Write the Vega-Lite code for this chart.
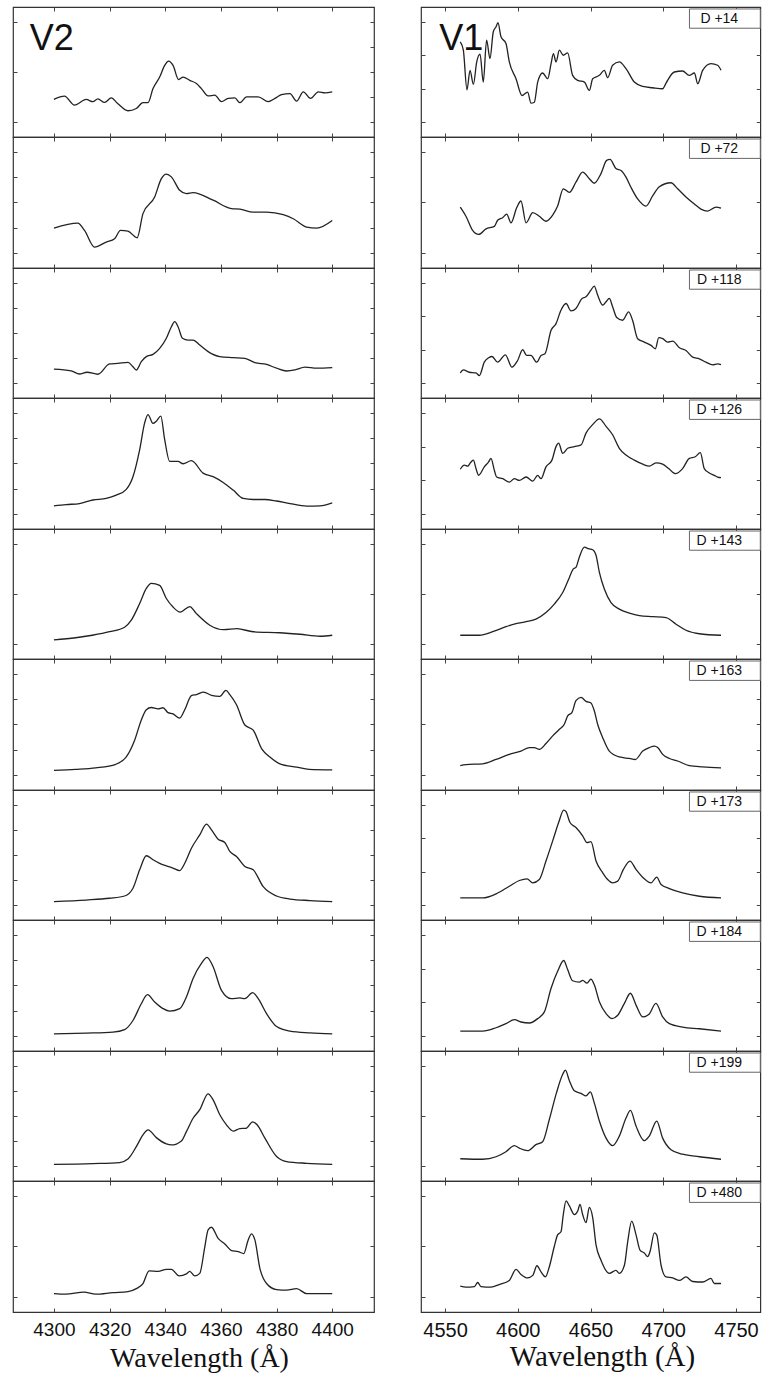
{
"$schema": "https://vega.github.io/schema/vega-lite/v6.json",
"background": "white",
"padding": {"left": 11, "top": 5, "right": 0, "bottom": 0},
"autosize": {"type": "pad"},
"config": {
  "font": "Liberation Sans",
  "view": {"stroke": "#333", "strokeWidth": 1.2},
  "axis": {"grid": false, "domain": false, "labels": false, "labelFlush": false, "minExtent": 0, "format": "d", "tickSize": -4, "tickColor": "#444", "tickWidth": 1, "labelFont": "Liberation Sans", "labelFontSize": 19, "labelColor": "#111", "labelPadding": 12, "titleFont": "Liberation Serif", "titleFontSize": 28, "titleFontWeight": "normal", "titleColor": "#111", "titlePadding": 5}
},
"datasets": {
  "names": [{"panel": "V2-1", "name": "V2"}, {"panel": "V1-1", "name": "V1"}],
  "days": [
    {"panel": "V1-1", "day": "D +14"}, {"panel": "V1-2", "day": "D +72"}, {"panel": "V1-3", "day": "D +118"}, {"panel": "V1-4", "day": "D +126"}, {"panel": "V1-5", "day": "D +143"},
    {"panel": "V1-6", "day": "D +163"}, {"panel": "V1-7", "day": "D +173"}, {"panel": "V1-8", "day": "D +184"}, {"panel": "V1-9", "day": "D +199"}, {"panel": "V1-10", "day": "D +480"}
  ],
  "spectra": [
{"panel":"V2-1","wl":4300,"flux":1.91},{"panel":"V2-1","wl":4303.8,"flux":2.04},{"panel":"V2-1","wl":4307.4,"flux":1.68},{"panel":"V2-1","wl":4311.6,"flux":1.91},{"panel":"V2-1","wl":4314,"flux":1.82},{"panel":"V2-1","wl":4315.8,"flux":1.93},{"panel":"V2-1","wl":4318.2,"flux":1.79},{"panel":"V2-1","wl":4320.6,"flux":1.97},{"panel":"V2-1","wl":4322.9,"flux":1.75},{"panel":"V2-1","wl":4326.6,"flux":1.46},{"panel":"V2-1","wl":4329.6,"flux":1.55},{"panel":"V2-1","wl":4332,"flux":1.78},{"panel":"V2-1","wl":4333.8,"flux":1.78},{"panel":"V2-1","wl":4335.6,"flux":2.34},{"panel":"V2-1","wl":4338,"flux":2.8},{"panel":"V2-1","wl":4339.8,"flux":3.26},{"panel":"V2-1","wl":4341.2,"flux":3.43},{"panel":"V2-1","wl":4342.8,"flux":3.26},{"panel":"V2-1","wl":4344.8,"flux":2.7},{"panel":"V2-1","wl":4346.4,"flux":2.8},{"panel":"V2-1","wl":4348.8,"flux":2.67},{"panel":"V2-1","wl":4351.2,"flux":2.54},{"panel":"V2-1","wl":4353,"flux":2.34},{"panel":"V2-1","wl":4355.4,"flux":2.05},{"panel":"V2-1","wl":4357.8,"flux":2.08},{"panel":"V2-1","wl":4360.2,"flux":1.82},{"panel":"V2-1","wl":4362.6,"flux":1.95},{"panel":"V2-1","wl":4365,"flux":1.97},{"panel":"V2-1","wl":4366.8,"flux":1.78},{"panel":"V2-1","wl":4369.2,"flux":2.01},{"panel":"V2-1","wl":4373.4,"flux":2.01},{"panel":"V2-1","wl":4377,"flux":1.82},{"panel":"V2-1","wl":4380,"flux":1.99},{"panel":"V2-1","wl":4381.8,"flux":2.1},{"panel":"V2-1","wl":4384.8,"flux":2.14},{"panel":"V2-1","wl":4387.2,"flux":1.84},{"panel":"V2-1","wl":4389.6,"flux":2.21},{"panel":"V2-1","wl":4392.2,"flux":1.95},{"panel":"V2-1","wl":4395,"flux":2.21},{"panel":"V2-1","wl":4397.4,"flux":2.17},{"panel":"V2-1","wl":4400,"flux":2.21},
{"panel":"V2-2","wl":4300,"flux":1.99},{"panel":"V2-2","wl":4308.6,"flux":2.19},{"panel":"V2-2","wl":4311,"flux":1.9},{"panel":"V2-2","wl":4314.6,"flux":1.24},{"panel":"V2-2","wl":4318.8,"flux":1.44},{"panel":"V2-2","wl":4321.8,"flux":1.57},{"panel":"V2-2","wl":4323.9,"flux":1.9},{"panel":"V2-2","wl":4326.6,"flux":1.87},{"panel":"V2-2","wl":4329.9,"flux":1.61},{"panel":"V2-2","wl":4332,"flux":2.56},{"panel":"V2-2","wl":4336.2,"flux":3.22},{"panel":"V2-2","wl":4338.6,"flux":3.94},{"panel":"V2-2","wl":4340.4,"flux":4.12},{"panel":"V2-2","wl":4342.2,"flux":4.01},{"panel":"V2-2","wl":4345.2,"flux":3.48},{"panel":"V2-2","wl":4347.6,"flux":3.35},{"panel":"V2-2","wl":4350,"flux":3.39},{"panel":"V2-2","wl":4357.2,"flux":3.09},{"panel":"V2-2","wl":4363.8,"flux":2.76},{"panel":"V2-2","wl":4366.8,"flux":2.74},{"panel":"V2-2","wl":4371.6,"flux":2.62},{"panel":"V2-2","wl":4376.4,"flux":2.62},{"panel":"V2-2","wl":4382.4,"flux":2.52},{"panel":"V2-2","wl":4386,"flux":2.36},{"panel":"V2-2","wl":4390.8,"flux":2.03},{"panel":"V2-2","wl":4394.4,"flux":1.99},{"panel":"V2-2","wl":4400,"flux":2.29},
{"panel":"V2-3","wl":4300,"flux":1.56},{"panel":"V2-3","wl":4306.2,"flux":1.49},{"panel":"V2-3","wl":4309.2,"flux":1.37},{"panel":"V2-3","wl":4311.9,"flux":1.44},{"panel":"V2-3","wl":4315.8,"flux":1.36},{"panel":"V2-3","wl":4320,"flux":1.77},{"panel":"V2-3","wl":4323,"flux":1.79},{"panel":"V2-3","wl":4326.6,"flux":1.83},{"panel":"V2-3","wl":4328.4,"flux":1.66},{"panel":"V2-3","wl":4329.6,"flux":1.53},{"panel":"V2-3","wl":4331.4,"flux":1.86},{"panel":"V2-3","wl":4333.2,"flux":2.06},{"panel":"V2-3","wl":4335.6,"flux":2.15},{"panel":"V2-3","wl":4338,"flux":2.39},{"panel":"V2-3","wl":4340.4,"flux":2.79},{"panel":"V2-3","wl":4342.2,"flux":3.25},{"panel":"V2-3","wl":4343.4,"flux":3.45},{"panel":"V2-3","wl":4344.6,"flux":3.25},{"panel":"V2-3","wl":4346.2,"flux":2.79},{"panel":"V2-3","wl":4348.2,"flux":2.72},{"panel":"V2-3","wl":4350,"flux":2.72},{"panel":"V2-3","wl":4352.4,"flux":2.52},{"panel":"V2-3","wl":4355.4,"flux":2.26},{"panel":"V2-3","wl":4359.6,"flux":2.06},{"panel":"V2-3","wl":4364.4,"flux":2.02},{"panel":"V2-3","wl":4368.6,"flux":1.99},{"panel":"V2-3","wl":4372.2,"flux":1.82},{"panel":"V2-3","wl":4376.4,"flux":1.75},{"panel":"V2-3","wl":4380,"flux":1.6},{"panel":"V2-3","wl":4383.6,"flux":1.49},{"panel":"V2-3","wl":4386.6,"flux":1.53},{"panel":"V2-3","wl":4390.2,"flux":1.64},{"panel":"V2-3","wl":4394.4,"flux":1.6},{"panel":"V2-3","wl":4400,"flux":1.62},
{"panel":"V2-4","wl":4300,"flux":1.33},{"panel":"V2-4","wl":4304.4,"flux":1.38},{"panel":"V2-4","wl":4309.2,"flux":1.42},{"panel":"V2-4","wl":4314,"flux":1.56},{"panel":"V2-4","wl":4318.8,"flux":1.62},{"panel":"V2-4","wl":4322.4,"flux":1.75},{"panel":"V2-4","wl":4326,"flux":1.98},{"panel":"V2-4","wl":4328.4,"flux":2.48},{"panel":"V2-4","wl":4330.8,"flux":3.54},{"panel":"V2-4","wl":4332.6,"flux":4.6},{"panel":"V2-4","wl":4333.8,"flux":4.93},{"panel":"V2-4","wl":4335.6,"flux":4.58},{"panel":"V2-4","wl":4336.8,"flux":4.67},{"panel":"V2-4","wl":4338.4,"flux":4.87},{"panel":"V2-4","wl":4339.8,"flux":3.94},{"panel":"V2-4","wl":4341.6,"flux":3.08},{"panel":"V2-4","wl":4344.6,"flux":3.08},{"panel":"V2-4","wl":4346.4,"flux":2.99},{"panel":"V2-4","wl":4349.4,"flux":3.11},{"panel":"V2-4","wl":4353.6,"flux":2.62},{"panel":"V2-4","wl":4357.2,"flux":2.48},{"panel":"V2-4","wl":4360.8,"flux":2.25},{"panel":"V2-4","wl":4364.4,"flux":1.95},{"panel":"V2-4","wl":4368,"flux":1.62},{"panel":"V2-4","wl":4371.6,"flux":1.58},{"panel":"V2-4","wl":4375.8,"flux":1.58},{"panel":"V2-4","wl":4380,"flux":1.52},{"panel":"V2-4","wl":4384.8,"flux":1.42},{"panel":"V2-4","wl":4390.8,"flux":1.32},{"panel":"V2-4","wl":4395.6,"flux":1.33},{"panel":"V2-4","wl":4400,"flux":1.45},
{"panel":"V2-5","wl":4300,"flux":1.09},{"panel":"V2-5","wl":4307.8,"flux":1.13},{"panel":"V2-5","wl":4313.8,"flux":1.18},{"panel":"V2-5","wl":4320,"flux":1.25},{"panel":"V2-5","wl":4325.4,"flux":1.34},{"panel":"V2-5","wl":4327.8,"flux":1.48},{"panel":"V2-5","wl":4330.8,"flux":1.81},{"panel":"V2-5","wl":4333.2,"flux":2.11},{"panel":"V2-5","wl":4335,"flux":2.21},{"panel":"V2-5","wl":4338,"flux":2.17},{"panel":"V2-5","wl":4340.4,"flux":1.91},{"panel":"V2-5","wl":4342.8,"flux":1.74},{"panel":"V2-5","wl":4345.4,"flux":1.64},{"panel":"V2-5","wl":4348.8,"flux":1.75},{"panel":"V2-5","wl":4351.2,"flux":1.61},{"panel":"V2-5","wl":4356,"flux":1.38},{"panel":"V2-5","wl":4361,"flux":1.29},{"panel":"V2-5","wl":4365.8,"flux":1.31},{"panel":"V2-5","wl":4371.6,"flux":1.25},{"panel":"V2-5","wl":4381.2,"flux":1.23},{"panel":"V2-5","wl":4388.4,"flux":1.2},{"panel":"V2-5","wl":4395.6,"flux":1.16},{"panel":"V2-5","wl":4400,"flux":1.18},
{"panel":"V2-6","wl":4300,"flux":1.19},{"panel":"V2-6","wl":4307.8,"flux":1.23},{"panel":"V2-6","wl":4315,"flux":1.29},{"panel":"V2-6","wl":4322.2,"flux":1.43},{"panel":"V2-6","wl":4326,"flux":1.72},{"panel":"V2-6","wl":4329,"flux":2.38},{"panel":"V2-6","wl":4331.4,"flux":3.18},{"panel":"V2-6","wl":4333.2,"flux":3.58},{"panel":"V2-6","wl":4335,"flux":3.67},{"panel":"V2-6","wl":4337.4,"flux":3.62},{"panel":"V2-6","wl":4339.2,"flux":3.66},{"panel":"V2-6","wl":4341,"flux":3.47},{"panel":"V2-6","wl":4342.8,"flux":3.42},{"panel":"V2-6","wl":4345.2,"flux":3.25},{"panel":"V2-6","wl":4347,"flux":3.58},{"panel":"V2-6","wl":4349.4,"flux":4.14},{"panel":"V2-6","wl":4351.2,"flux":4.18},{"panel":"V2-6","wl":4353.8,"flux":4.28},{"panel":"V2-6","wl":4356.6,"flux":4.15},{"panel":"V2-6","wl":4359.6,"flux":4.11},{"panel":"V2-6","wl":4361.8,"flux":4.35},{"panel":"V2-6","wl":4363.2,"flux":4.18},{"panel":"V2-6","wl":4365.6,"flux":3.78},{"panel":"V2-6","wl":4368.6,"flux":2.98},{"panel":"V2-6","wl":4371.6,"flux":2.78},{"panel":"V2-6","wl":4374.6,"flux":2.05},{"panel":"V2-6","wl":4377.6,"flux":1.72},{"panel":"V2-6","wl":4381.2,"flux":1.45},{"panel":"V2-6","wl":4387.2,"flux":1.32},{"panel":"V2-6","wl":4391.7,"flux":1.23},{"panel":"V2-6","wl":4400,"flux":1.21},
{"panel":"V2-7","wl":4300,"flux":1.15},{"panel":"V2-7","wl":4311.6,"flux":1.21},{"panel":"V2-7","wl":4320,"flux":1.28},{"panel":"V2-7","wl":4325.4,"flux":1.37},{"panel":"V2-7","wl":4328.4,"flux":1.68},{"panel":"V2-7","wl":4330.8,"flux":2.41},{"panel":"V2-7","wl":4333.2,"flux":2.97},{"panel":"V2-7","wl":4335.6,"flux":2.81},{"panel":"V2-7","wl":4338,"flux":2.67},{"panel":"V2-7","wl":4340.4,"flux":2.57},{"panel":"V2-7","wl":4342.8,"flux":2.48},{"panel":"V2-7","wl":4345.2,"flux":2.38},{"panel":"V2-7","wl":4347,"flux":2.67},{"panel":"V2-7","wl":4349.4,"flux":3.27},{"panel":"V2-7","wl":4352.4,"flux":3.8},{"panel":"V2-7","wl":4354.8,"flux":4.23},{"panel":"V2-7","wl":4356.6,"flux":4},{"panel":"V2-7","wl":4359,"flux":3.63},{"panel":"V2-7","wl":4361.4,"flux":3.5},{"panel":"V2-7","wl":4363.2,"flux":3.14},{"panel":"V2-7","wl":4365.6,"flux":2.94},{"panel":"V2-7","wl":4368.6,"flux":2.54},{"panel":"V2-7","wl":4371.6,"flux":2.41},{"panel":"V2-7","wl":4375.2,"flux":1.74},{"panel":"V2-7","wl":4380,"flux":1.37},{"panel":"V2-7","wl":4384.8,"flux":1.25},{"panel":"V2-7","wl":4392,"flux":1.19},{"panel":"V2-7","wl":4400,"flux":1.15},
{"panel":"V2-8","wl":4300,"flux":1.09},{"panel":"V2-8","wl":4311.6,"flux":1.12},{"panel":"V2-8","wl":4321.2,"flux":1.16},{"panel":"V2-8","wl":4325.4,"flux":1.26},{"panel":"V2-8","wl":4328.4,"flux":1.62},{"panel":"V2-8","wl":4331.4,"flux":2.28},{"panel":"V2-8","wl":4333.6,"flux":2.64},{"panel":"V2-8","wl":4336.2,"flux":2.35},{"panel":"V2-8","wl":4339.2,"flux":2.09},{"panel":"V2-8","wl":4341.6,"flux":1.99},{"panel":"V2-8","wl":4345.2,"flux":2.09},{"panel":"V2-8","wl":4347.6,"flux":2.55},{"panel":"V2-8","wl":4350,"flux":3.28},{"panel":"V2-8","wl":4353,"flux":3.87},{"panel":"V2-8","wl":4355,"flux":4.11},{"panel":"V2-8","wl":4357.2,"flux":3.74},{"panel":"V2-8","wl":4360.2,"flux":2.81},{"panel":"V2-8","wl":4363.8,"flux":2.48},{"panel":"V2-8","wl":4366.8,"flux":2.51},{"panel":"V2-8","wl":4368.6,"flux":2.48},{"panel":"V2-8","wl":4371.4,"flux":2.72},{"panel":"V2-8","wl":4373.4,"flux":2.48},{"panel":"V2-8","wl":4376.4,"flux":1.89},{"panel":"V2-8","wl":4380,"flux":1.38},{"panel":"V2-8","wl":4384.8,"flux":1.2},{"panel":"V2-8","wl":4392,"flux":1.13},{"panel":"V2-8","wl":4400,"flux":1.09},
{"panel":"V2-9","wl":4300,"flux":1.08},{"panel":"V2-9","wl":4314,"flux":1.11},{"panel":"V2-9","wl":4323.6,"flux":1.15},{"panel":"V2-9","wl":4326.6,"flux":1.29},{"panel":"V2-9","wl":4329.6,"flux":1.78},{"panel":"V2-9","wl":4332,"flux":2.25},{"panel":"V2-9","wl":4333.8,"flux":2.45},{"panel":"V2-9","wl":4336.8,"flux":2.14},{"panel":"V2-9","wl":4340.4,"flux":1.89},{"panel":"V2-9","wl":4342.2,"flux":1.85},{"panel":"V2-9","wl":4345.8,"flux":2.01},{"panel":"V2-9","wl":4347.6,"flux":2.38},{"panel":"V2-9","wl":4350,"flux":2.91},{"panel":"V2-9","wl":4352.4,"flux":3.25},{"panel":"V2-9","wl":4355.4,"flux":3.88},{"panel":"V2-9","wl":4357.2,"flux":3.64},{"panel":"V2-9","wl":4359.6,"flux":3.05},{"panel":"V2-9","wl":4362,"flux":2.65},{"panel":"V2-9","wl":4364.4,"flux":2.4},{"panel":"V2-9","wl":4366.8,"flux":2.5},{"panel":"V2-9","wl":4369,"flux":2.51},{"panel":"V2-9","wl":4371.4,"flux":2.77},{"panel":"V2-9","wl":4373,"flux":2.65},{"panel":"V2-9","wl":4375.8,"flux":2.12},{"panel":"V2-9","wl":4380,"flux":1.39},{"panel":"V2-9","wl":4383.6,"flux":1.19},{"panel":"V2-9","wl":4390.8,"flux":1.12},{"panel":"V2-9","wl":4400,"flux":1.08},
{"panel":"V2-10","wl":4300,"flux":1.07},{"panel":"V2-10","wl":4304.2,"flux":1.06},{"panel":"V2-10","wl":4310.8,"flux":1.1},{"panel":"V2-10","wl":4315,"flux":1.06},{"panel":"V2-10","wl":4321.2,"flux":1.09},{"panel":"V2-10","wl":4326.6,"flux":1.11},{"panel":"V2-10","wl":4329.6,"flux":1.17},{"panel":"V2-10","wl":4332,"flux":1.27},{"panel":"V2-10","wl":4334.2,"flux":1.52},{"panel":"V2-10","wl":4337.4,"flux":1.51},{"panel":"V2-10","wl":4340.4,"flux":1.55},{"panel":"V2-10","wl":4342.2,"flux":1.55},{"panel":"V2-10","wl":4345,"flux":1.42},{"panel":"V2-10","wl":4347.6,"flux":1.46},{"panel":"V2-10","wl":4348.8,"flux":1.51},{"panel":"V2-10","wl":4350.6,"flux":1.42},{"panel":"V2-10","wl":4352.4,"flux":1.47},{"panel":"V2-10","wl":4354.2,"flux":1.99},{"panel":"V2-10","wl":4355.4,"flux":2.33},{"panel":"V2-10","wl":4356.6,"flux":2.38},{"panel":"V2-10","wl":4359,"flux":2.16},{"panel":"V2-10","wl":4361.4,"flux":2.05},{"panel":"V2-10","wl":4363.8,"flux":1.92},{"panel":"V2-10","wl":4366.2,"flux":1.9},{"panel":"V2-10","wl":4368.2,"flux":1.86},{"panel":"V2-10","wl":4369.8,"flux":2.13},{"panel":"V2-10","wl":4371,"flux":2.25},{"panel":"V2-10","wl":4372.2,"flux":2.13},{"panel":"V2-10","wl":4374,"flux":1.57},{"panel":"V2-10","wl":4376.4,"flux":1.27},{"panel":"V2-10","wl":4380,"flux":1.15},{"panel":"V2-10","wl":4383.6,"flux":1.14},{"panel":"V2-10","wl":4387.2,"flux":1.17},{"panel":"V2-10","wl":4390.8,"flux":1.07},{"panel":"V2-10","wl":4400,"flux":1.07},
{"panel":"V1-1","wl":4560.5,"flux":3.4},{"panel":"V1-1","wl":4562.6,"flux":3.15},{"panel":"V1-1","wl":4565.1,"flux":1.97},{"panel":"V1-1","wl":4567.2,"flux":2.55},{"panel":"V1-1","wl":4569.5,"flux":2.13},{"panel":"V1-1","wl":4571.8,"flux":2.8},{"panel":"V1-1","wl":4574.1,"flux":3.03},{"panel":"V1-1","wl":4576.3,"flux":2.2},{"panel":"V1-1","wl":4578.6,"flux":3.45},{"panel":"V1-1","wl":4580.9,"flux":2.9},{"panel":"V1-1","wl":4583.2,"flux":3.7},{"panel":"V1-1","wl":4585.1,"flux":3.85},{"panel":"V1-1","wl":4586.4,"flux":3.97},{"panel":"V1-1","wl":4588.5,"flux":3.55},{"panel":"V1-1","wl":4591.9,"flux":3.35},{"panel":"V1-1","wl":4594.2,"flux":2.8},{"panel":"V1-1","wl":4598.8,"flux":2.3},{"panel":"V1-1","wl":4602.9,"flux":1.8},{"panel":"V1-1","wl":4606.8,"flux":1.9},{"panel":"V1-1","wl":4609.1,"flux":1.57},{"panel":"V1-1","wl":4611.4,"flux":1.6},{"panel":"V1-1","wl":4613.7,"flux":2.2},{"panel":"V1-1","wl":4617.1,"flux":2.47},{"panel":"V1-1","wl":4620.6,"flux":2.3},{"panel":"V1-1","wl":4622.9,"flux":2.75},{"panel":"V1-1","wl":4624.5,"flux":3.05},{"panel":"V1-1","wl":4626.3,"flux":2.8},{"panel":"V1-1","wl":4628.6,"flux":3.15},{"panel":"V1-1","wl":4631.3,"flux":3.0},{"panel":"V1-1","wl":4634.3,"flux":3.07},{"panel":"V1-1","wl":4637.7,"flux":2.4},{"panel":"V1-1","wl":4641.2,"flux":2.25},{"panel":"V1-1","wl":4645.8,"flux":2.2},{"panel":"V1-1","wl":4649.2,"flux":1.95},{"panel":"V1-1","wl":4651.5,"flux":2.3},{"panel":"V1-1","wl":4656.1,"flux":2.4},{"panel":"V1-1","wl":4659.5,"flux":2.55},{"panel":"V1-1","wl":4661.8,"flux":2.33},{"panel":"V1-1","wl":4665.2,"flux":2.7},{"panel":"V1-1","wl":4669.8,"flux":2.8},{"panel":"V1-1","wl":4674.4,"flux":2.6},{"panel":"V1-1","wl":4680.1,"flux":2.2},{"panel":"V1-1","wl":4685.9,"flux":2.07},{"panel":"V1-1","wl":4692.7,"flux":2.03},{"panel":"V1-1","wl":4699.6,"flux":2.0},{"panel":"V1-1","wl":4701.9,"flux":2.17},{"panel":"V1-1","wl":4707.6,"flux":2.5},{"panel":"V1-1","wl":4713.3,"flux":2.53},{"panel":"V1-1","wl":4717.9,"flux":2.4},{"panel":"V1-1","wl":4721.4,"flux":2.47},{"panel":"V1-1","wl":4723.7,"flux":2.15},{"panel":"V1-1","wl":4727.1,"flux":2.55},{"panel":"V1-1","wl":4732.8,"flux":2.75},{"panel":"V1-1","wl":4737.4,"flux":2.7},{"panel":"V1-1","wl":4739.7,"flux":2.55},
{"panel":"V1-2","wl":4560.5,"flux":1.91},{"panel":"V1-2","wl":4564.4,"flux":1.73},{"panel":"V1-2","wl":4569,"flux":1.45},{"panel":"V1-2","wl":4573.1,"flux":1.37},{"panel":"V1-2","wl":4578.2,"flux":1.48},{"panel":"V1-2","wl":4583.9,"flux":1.53},{"panel":"V1-2","wl":4586.2,"flux":1.65},{"panel":"V1-2","wl":4589.6,"flux":1.7},{"panel":"V1-2","wl":4592.4,"flux":1.77},{"panel":"V1-2","wl":4595.4,"flux":1.6},{"panel":"V1-2","wl":4599.3,"flux":1.9},{"panel":"V1-2","wl":4602.2,"flux":2.03},{"panel":"V1-2","wl":4605.7,"flux":1.6},{"panel":"V1-2","wl":4610.3,"flux":1.8},{"panel":"V1-2","wl":4614.8,"flux":1.73},{"panel":"V1-2","wl":4619.4,"flux":1.63},{"panel":"V1-2","wl":4624,"flux":1.75},{"panel":"V1-2","wl":4627.4,"flux":1.93},{"panel":"V1-2","wl":4631.3,"flux":2.27},{"panel":"V1-2","wl":4635.5,"flux":2.2},{"panel":"V1-2","wl":4640,"flux":2.4},{"panel":"V1-2","wl":4644.6,"flux":2.6},{"panel":"V1-2","wl":4649.2,"flux":2.47},{"panel":"V1-2","wl":4652.6,"flux":2.38},{"panel":"V1-2","wl":4657.2,"flux":2.57},{"panel":"V1-2","wl":4661.1,"flux":2.83},{"panel":"V1-2","wl":4663.4,"flux":2.85},{"panel":"V1-2","wl":4667.5,"flux":2.67},{"panel":"V1-2","wl":4671,"flux":2.63},{"panel":"V1-2","wl":4674.4,"flux":2.5},{"panel":"V1-2","wl":4677.8,"flux":2.3},{"panel":"V1-2","wl":4682.4,"flux":2.07},{"panel":"V1-2","wl":4688.1,"flux":1.93},{"panel":"V1-2","wl":4692.7,"flux":2.13},{"panel":"V1-2","wl":4697.3,"flux":2.31},{"panel":"V1-2","wl":4705.3,"flux":2.39},{"panel":"V1-2","wl":4709.9,"flux":2.27},{"panel":"V1-2","wl":4715.6,"flux":2.11},{"panel":"V1-2","wl":4721.4,"flux":1.97},{"panel":"V1-2","wl":4725.9,"flux":1.87},{"panel":"V1-2","wl":4730.5,"flux":1.83},{"panel":"V1-2","wl":4736.3,"flux":1.91},{"panel":"V1-2","wl":4739.7,"flux":1.89},
{"panel":"V1-3","wl":4560.5,"flux":1.31},{"panel":"V1-3","wl":4562.6,"flux":1.4},{"panel":"V1-3","wl":4566.7,"flux":1.33},{"panel":"V1-3","wl":4571.3,"flux":1.31},{"panel":"V1-3","wl":4573.6,"flux":1.23},{"panel":"V1-3","wl":4577,"flux":1.63},{"panel":"V1-3","wl":4580,"flux":1.76},{"panel":"V1-3","wl":4582.3,"flux":1.8},{"panel":"V1-3","wl":4586.2,"flux":1.63},{"panel":"V1-3","wl":4591.5,"flux":1.85},{"panel":"V1-3","wl":4596,"flux":1.48},{"panel":"V1-3","wl":4599.9,"flux":1.68},{"panel":"V1-3","wl":4603.4,"flux":2.0},{"panel":"V1-3","wl":4606.1,"flux":1.83},{"panel":"V1-3","wl":4609.1,"flux":1.83},{"panel":"V1-3","wl":4613,"flux":1.63},{"panel":"V1-3","wl":4616,"flux":1.83},{"panel":"V1-3","wl":4618.7,"flux":1.88},{"panel":"V1-3","wl":4622.9,"flux":2.58},{"panel":"V1-3","wl":4626.3,"flux":2.78},{"panel":"V1-3","wl":4629.7,"flux":3.18},{"panel":"V1-3","wl":4633.2,"flux":3.38},{"panel":"V1-3","wl":4636.6,"flux":3.16},{"panel":"V1-3","wl":4640,"flux":3.23},{"panel":"V1-3","wl":4644.2,"flux":3.53},{"panel":"V1-3","wl":4646.9,"flux":3.58},{"panel":"V1-3","wl":4650.3,"flux":3.78},{"panel":"V1-3","wl":4652.6,"flux":3.9},{"panel":"V1-3","wl":4654.9,"flux":3.63},{"panel":"V1-3","wl":4658.4,"flux":3.33},{"panel":"V1-3","wl":4660.7,"flux":3.43},{"panel":"V1-3","wl":4662.9,"flux":3.53},{"panel":"V1-3","wl":4665.2,"flux":3.28},{"panel":"V1-3","wl":4668,"flux":2.96},{"panel":"V1-3","wl":4672.1,"flux":2.88},{"panel":"V1-3","wl":4676.2,"flux":3.13},{"panel":"V1-3","wl":4678.9,"flux":2.88},{"panel":"V1-3","wl":4682.4,"flux":2.33},{"panel":"V1-3","wl":4687,"flux":2.23},{"panel":"V1-3","wl":4691.6,"flux":2.13},{"panel":"V1-3","wl":4694.6,"flux":2.03},{"panel":"V1-3","wl":4696.9,"flux":2.36},{"panel":"V1-3","wl":4699.6,"flux":2.33},{"panel":"V1-3","wl":4703,"flux":2.23},{"panel":"V1-3","wl":4706.5,"flux":2.26},{"panel":"V1-3","wl":4711.1,"flux":2.06},{"panel":"V1-3","wl":4715.6,"flux":1.98},{"panel":"V1-3","wl":4720.2,"flux":1.78},{"panel":"V1-3","wl":4724.8,"flux":1.73},{"panel":"V1-3","wl":4729.4,"flux":1.63},{"panel":"V1-3","wl":4734,"flux":1.55},{"panel":"V1-3","wl":4737.4,"flux":1.58},{"panel":"V1-3","wl":4739.7,"flux":1.56},
{"panel":"V1-4","wl":4560.5,"flux":2.33},{"panel":"V1-4","wl":4563.3,"flux":2.45},{"panel":"V1-4","wl":4565.6,"flux":2.42},{"panel":"V1-4","wl":4567.4,"flux":2.52},{"panel":"V1-4","wl":4569.5,"flux":2.6},{"panel":"V1-4","wl":4571.3,"flux":2.35},{"panel":"V1-4","wl":4573.1,"flux":2.15},{"panel":"V1-4","wl":4577,"flux":2.4},{"panel":"V1-4","wl":4580,"flux":2.55},{"panel":"V1-4","wl":4581.6,"flux":2.65},{"panel":"V1-4","wl":4583.9,"flux":2.3},{"panel":"V1-4","wl":4585.5,"flux":2.1},{"panel":"V1-4","wl":4589.6,"flux":2.05},{"panel":"V1-4","wl":4594.2,"flux":1.95},{"panel":"V1-4","wl":4597.7,"flux":2.05},{"panel":"V1-4","wl":4601.1,"flux":2.0},{"panel":"V1-4","wl":4605.7,"flux":2.1},{"panel":"V1-4","wl":4610.3,"flux":1.98},{"panel":"V1-4","wl":4613.7,"flux":2.15},{"panel":"V1-4","wl":4616,"flux":2.05},{"panel":"V1-4","wl":4619.4,"flux":2.4},{"panel":"V1-4","wl":4623.5,"flux":2.6},{"panel":"V1-4","wl":4626.3,"flux":3.0},{"panel":"V1-4","wl":4628.1,"flux":3.1},{"panel":"V1-4","wl":4630.9,"flux":2.8},{"panel":"V1-4","wl":4634.3,"flux":2.95},{"panel":"V1-4","wl":4638.9,"flux":3.0},{"panel":"V1-4","wl":4643.5,"flux":3.05},{"panel":"V1-4","wl":4646.9,"flux":3.4},{"panel":"V1-4","wl":4651.5,"flux":3.65},{"panel":"V1-4","wl":4656.1,"flux":3.82},{"panel":"V1-4","wl":4660.7,"flux":3.6},{"panel":"V1-4","wl":4665.2,"flux":3.35},{"panel":"V1-4","wl":4669.8,"flux":2.95},{"panel":"V1-4","wl":4674.4,"flux":2.75},{"panel":"V1-4","wl":4680.1,"flux":2.6},{"panel":"V1-4","wl":4685.9,"flux":2.48},{"panel":"V1-4","wl":4690.4,"flux":2.42},{"panel":"V1-4","wl":4695,"flux":2.52},{"panel":"V1-4","wl":4699.6,"flux":2.48},{"panel":"V1-4","wl":4703.7,"flux":2.35},{"panel":"V1-4","wl":4708.3,"flux":2.2},{"panel":"V1-4","wl":4713.3,"flux":2.35},{"panel":"V1-4","wl":4717.9,"flux":2.65},{"panel":"V1-4","wl":4722,"flux":2.7},{"panel":"V1-4","wl":4725.5,"flux":2.82},{"panel":"V1-4","wl":4728.2,"flux":2.35},{"panel":"V1-4","wl":4731.7,"flux":2.22},{"panel":"V1-4","wl":4735.1,"flux":2.15},{"panel":"V1-4","wl":4737.4,"flux":2.1},{"panel":"V1-4","wl":4739.7,"flux":2.08},
{"panel":"V1-5","wl":4560.5,"flux":1.18},{"panel":"V1-5","wl":4573.6,"flux":1.18},{"panel":"V1-5","wl":4582.8,"flux":1.25},{"panel":"V1-5","wl":4591.9,"flux":1.35},{"panel":"V1-5","wl":4598.8,"flux":1.41},{"panel":"V1-5","wl":4605.7,"flux":1.45},{"panel":"V1-5","wl":4612.5,"flux":1.5},{"panel":"V1-5","wl":4619.4,"flux":1.63},{"panel":"V1-5","wl":4625.1,"flux":1.8},{"panel":"V1-5","wl":4630.9,"flux":2.03},{"panel":"V1-5","wl":4635.5,"flux":2.33},{"panel":"V1-5","wl":4638.2,"flux":2.5},{"panel":"V1-5","wl":4640,"flux":2.53},{"panel":"V1-5","wl":4642.3,"flux":2.73},{"panel":"V1-5","wl":4645.8,"flux":2.93},{"panel":"V1-5","wl":4648.7,"flux":2.9},{"panel":"V1-5","wl":4651.5,"flux":2.88},{"panel":"V1-5","wl":4653.8,"flux":2.77},{"panel":"V1-5","wl":4656.1,"flux":2.43},{"panel":"V1-5","wl":4659.5,"flux":2.1},{"panel":"V1-5","wl":4664.1,"flux":1.83},{"panel":"V1-5","wl":4669.8,"flux":1.7},{"panel":"V1-5","wl":4676.7,"flux":1.62},{"panel":"V1-5","wl":4683.6,"flux":1.57},{"panel":"V1-5","wl":4692.7,"flux":1.55},{"panel":"V1-5","wl":4701.9,"flux":1.53},{"panel":"V1-5","wl":4708.8,"flux":1.4},{"panel":"V1-5","wl":4715.6,"flux":1.28},{"panel":"V1-5","wl":4724.8,"flux":1.21},{"panel":"V1-5","wl":4739.7,"flux":1.18},
{"panel":"V1-6","wl":4560.5,"flux":1.38},{"panel":"V1-6","wl":4564.4,"flux":1.42},{"panel":"V1-6","wl":4575.9,"flux":1.45},{"panel":"V1-6","wl":4585.1,"flux":1.62},{"panel":"V1-6","wl":4594.2,"flux":1.82},{"panel":"V1-6","wl":4602.2,"flux":1.95},{"panel":"V1-6","wl":4608,"flux":2.09},{"panel":"V1-6","wl":4611.4,"flux":2.09},{"panel":"V1-6","wl":4614.8,"flux":2.02},{"panel":"V1-6","wl":4619.4,"flux":2.25},{"panel":"V1-6","wl":4624,"flux":2.55},{"panel":"V1-6","wl":4628.6,"flux":2.81},{"panel":"V1-6","wl":4632,"flux":3.01},{"panel":"V1-6","wl":4634.3,"flux":3.34},{"panel":"V1-6","wl":4637.3,"flux":3.48},{"panel":"V1-6","wl":4640,"flux":3.94},{"panel":"V1-6","wl":4643.5,"flux":4.07},{"panel":"V1-6","wl":4646.9,"flux":3.91},{"panel":"V1-6","wl":4650.3,"flux":3.85},{"panel":"V1-6","wl":4652.6,"flux":3.54},{"panel":"V1-6","wl":4654.9,"flux":3.01},{"panel":"V1-6","wl":4658.4,"flux":2.48},{"panel":"V1-6","wl":4662.9,"flux":1.95},{"panel":"V1-6","wl":4669.8,"flux":1.72},{"panel":"V1-6","wl":4676.7,"flux":1.66},{"panel":"V1-6","wl":4680.8,"flux":1.62},{"panel":"V1-6","wl":4685.9,"flux":1.95},{"panel":"V1-6","wl":4690.4,"flux":2.09},{"panel":"V1-6","wl":4693.9,"flux":2.15},{"panel":"V1-6","wl":4696.2,"flux":2.09},{"panel":"V1-6","wl":4699.6,"flux":1.82},{"panel":"V1-6","wl":4704.2,"flux":1.66},{"panel":"V1-6","wl":4709.9,"flux":1.56},{"panel":"V1-6","wl":4717.9,"flux":1.38},{"panel":"V1-6","wl":4727.1,"flux":1.33},{"panel":"V1-6","wl":4739.7,"flux":1.29},
{"panel":"V1-7","wl":4560.5,"flux":1.22},{"panel":"V1-7","wl":4575.9,"flux":1.22},{"panel":"V1-7","wl":4585.1,"flux":1.34},{"panel":"V1-7","wl":4594.2,"flux":1.57},{"panel":"V1-7","wl":4601.1,"flux":1.74},{"panel":"V1-7","wl":4606.4,"flux":1.79},{"panel":"V1-7","wl":4610.3,"flux":1.67},{"panel":"V1-7","wl":4614.8,"flux":1.77},{"panel":"V1-7","wl":4619.4,"flux":2.32},{"panel":"V1-7","wl":4624,"flux":2.92},{"panel":"V1-7","wl":4628.1,"flux":3.47},{"panel":"V1-7","wl":4631.6,"flux":3.84},{"panel":"V1-7","wl":4633.2,"flux":3.79},{"panel":"V1-7","wl":4635.9,"flux":3.47},{"panel":"V1-7","wl":4640,"flux":3.32},{"panel":"V1-7","wl":4644.6,"flux":3.07},{"panel":"V1-7","wl":4647.6,"flux":2.87},{"panel":"V1-7","wl":4650.3,"flux":2.9},{"panel":"V1-7","wl":4653.8,"flux":2.32},{"panel":"V1-7","wl":4658.4,"flux":1.97},{"panel":"V1-7","wl":4661.8,"flux":1.77},{"panel":"V1-7","wl":4665.2,"flux":1.67},{"panel":"V1-7","wl":4668.7,"flux":1.72},{"panel":"V1-7","wl":4672.6,"flux":2.07},{"panel":"V1-7","wl":4677.1,"flux":2.32},{"panel":"V1-7","wl":4681.3,"flux":2.07},{"panel":"V1-7","wl":4687,"flux":1.79},{"panel":"V1-7","wl":4691.6,"flux":1.67},{"panel":"V1-7","wl":4695.5,"flux":1.84},{"panel":"V1-7","wl":4698.5,"flux":1.62},{"panel":"V1-7","wl":4704.2,"flux":1.5},{"panel":"V1-7","wl":4713.3,"flux":1.37},{"panel":"V1-7","wl":4724.8,"flux":1.27},{"panel":"V1-7","wl":4739.7,"flux":1.22},
{"panel":"V1-8","wl":4560.5,"flux":1.15},{"panel":"V1-8","wl":4575.9,"flux":1.15},{"panel":"V1-8","wl":4585.1,"flux":1.25},{"panel":"V1-8","wl":4591.9,"flux":1.37},{"panel":"V1-8","wl":4597.7,"flux":1.49},{"panel":"V1-8","wl":4602.2,"flux":1.42},{"panel":"V1-8","wl":4608,"flux":1.39},{"panel":"V1-8","wl":4613.7,"flux":1.52},{"panel":"V1-8","wl":4618.3,"flux":1.72},{"panel":"V1-8","wl":4622.9,"flux":2.42},{"panel":"V1-8","wl":4627.4,"flux":2.92},{"panel":"V1-8","wl":4631.6,"flux":3.24},{"panel":"V1-8","wl":4634.3,"flux":2.97},{"panel":"V1-8","wl":4637.7,"flux":2.64},{"panel":"V1-8","wl":4642.3,"flux":2.6},{"panel":"V1-8","wl":4644.6,"flux":2.65},{"panel":"V1-8","wl":4647.6,"flux":2.57},{"panel":"V1-8","wl":4650.3,"flux":2.69},{"panel":"V1-8","wl":4652.6,"flux":2.52},{"panel":"V1-8","wl":4656.1,"flux":2.02},{"panel":"V1-8","wl":4660.7,"flux":1.67},{"panel":"V1-8","wl":4664.8,"flux":1.52},{"panel":"V1-8","wl":4668.7,"flux":1.62},{"panel":"V1-8","wl":4673.3,"flux":1.97},{"panel":"V1-8","wl":4677.4,"flux":2.27},{"panel":"V1-8","wl":4681.3,"flux":1.92},{"panel":"V1-8","wl":4685.9,"flux":1.57},{"panel":"V1-8","wl":4690,"flux":1.64},{"panel":"V1-8","wl":4695,"flux":1.97},{"panel":"V1-8","wl":4699.6,"flux":1.57},{"panel":"V1-8","wl":4704.2,"flux":1.37},{"panel":"V1-8","wl":4713.3,"flux":1.27},{"panel":"V1-8","wl":4724.8,"flux":1.22},{"panel":"V1-8","wl":4739.7,"flux":1.15},
{"panel":"V1-9","wl":4560.5,"flux":1.15},{"panel":"V1-9","wl":4575.9,"flux":1.14},{"panel":"V1-9","wl":4585.1,"flux":1.19},{"panel":"V1-9","wl":4591.9,"flux":1.29},{"panel":"V1-9","wl":4597.7,"flux":1.41},{"panel":"V1-9","wl":4601.1,"flux":1.36},{"panel":"V1-9","wl":4606.8,"flux":1.31},{"panel":"V1-9","wl":4612.5,"flux":1.43},{"panel":"V1-9","wl":4617.1,"flux":1.49},{"panel":"V1-9","wl":4621.7,"flux":1.93},{"panel":"V1-9","wl":4626.3,"flux":2.43},{"panel":"V1-9","wl":4630.9,"flux":2.83},{"panel":"V1-9","wl":4632.7,"flux":2.91},{"panel":"V1-9","wl":4635.5,"flux":2.7},{"panel":"V1-9","wl":4638.9,"flux":2.5},{"panel":"V1-9","wl":4643.5,"flux":2.45},{"panel":"V1-9","wl":4646.9,"flux":2.4},{"panel":"V1-9","wl":4649.9,"flux":2.48},{"panel":"V1-9","wl":4652.6,"flux":2.26},{"panel":"V1-9","wl":4656.1,"flux":1.9},{"panel":"V1-9","wl":4660.7,"flux":1.56},{"panel":"V1-9","wl":4665.2,"flux":1.41},{"panel":"V1-9","wl":4669.8,"flux":1.6},{"panel":"V1-9","wl":4674.4,"flux":1.96},{"panel":"V1-9","wl":4677.4,"flux":2.11},{"panel":"V1-9","wl":4681.3,"flux":1.8},{"panel":"V1-9","wl":4687,"flux":1.51},{"panel":"V1-9","wl":4690.4,"flux":1.6},{"panel":"V1-9","wl":4695.5,"flux":1.9},{"panel":"V1-9","wl":4699.6,"flux":1.56},{"panel":"V1-9","wl":4705.3,"flux":1.33},{"panel":"V1-9","wl":4713.3,"flux":1.24},{"panel":"V1-9","wl":4724.8,"flux":1.19},{"panel":"V1-9","wl":4739.7,"flux":1.14},
{"panel":"V1-10","wl":4560.5,"flux":1.22},{"panel":"V1-10","wl":4564.4,"flux":1.2},{"panel":"V1-10","wl":4570.2,"flux":1.21},{"panel":"V1-10","wl":4572.5,"flux":1.29},{"panel":"V1-10","wl":4574.7,"flux":1.21},{"panel":"V1-10","wl":4581.6,"flux":1.2},{"panel":"V1-10","wl":4587.3,"flux":1.25},{"panel":"V1-10","wl":4594.2,"flux":1.33},{"panel":"V1-10","wl":4598.8,"flux":1.55},{"panel":"V1-10","wl":4602.2,"flux":1.45},{"panel":"V1-10","wl":4606.8,"flux":1.38},{"panel":"V1-10","wl":4610.3,"flux":1.43},{"panel":"V1-10","wl":4613.2,"flux":1.62},{"panel":"V1-10","wl":4616,"flux":1.5},{"panel":"V1-10","wl":4619,"flux":1.4},{"panel":"V1-10","wl":4621.7,"flux":1.6},{"panel":"V1-10","wl":4625.1,"flux":2.0},{"panel":"V1-10","wl":4627.4,"flux":2.23},{"panel":"V1-10","wl":4629.7,"flux":2.29},{"panel":"V1-10","wl":4631.3,"flux":2.63},{"panel":"V1-10","wl":4633.2,"flux":2.9},{"panel":"V1-10","wl":4635.5,"flux":2.8},{"panel":"V1-10","wl":4638.9,"flux":2.63},{"panel":"V1-10","wl":4641.2,"flux":2.7},{"panel":"V1-10","wl":4642.8,"flux":2.83},{"panel":"V1-10","wl":4644.6,"flux":2.63},{"panel":"V1-10","wl":4646.9,"flux":2.47},{"panel":"V1-10","wl":4649.2,"flux":2.77},{"panel":"V1-10","wl":4651.5,"flux":2.57},{"panel":"V1-10","wl":4653.8,"flux":2.03},{"panel":"V1-10","wl":4657.2,"flux":1.73},{"panel":"V1-10","wl":4662.9,"flux":1.47},{"panel":"V1-10","wl":4667.5,"flux":1.53},{"panel":"V1-10","wl":4669.8,"flux":1.47},{"panel":"V1-10","wl":4673.3,"flux":1.63},{"panel":"V1-10","wl":4675.6,"flux":2.1},{"panel":"V1-10","wl":4678.3,"flux":2.5},{"panel":"V1-10","wl":4681.3,"flux":2.23},{"panel":"V1-10","wl":4684,"flux":1.93},{"panel":"V1-10","wl":4687,"flux":1.87},{"panel":"V1-10","wl":4689.3,"flux":1.8},{"panel":"V1-10","wl":4690.9,"flux":1.9},{"panel":"V1-10","wl":4693.9,"flux":2.27},{"panel":"V1-10","wl":4695.5,"flux":2.23},{"panel":"V1-10","wl":4698.5,"flux":1.63},{"panel":"V1-10","wl":4701.9,"flux":1.4},{"panel":"V1-10","wl":4706.5,"flux":1.38},{"panel":"V1-10","wl":4711.1,"flux":1.33},{"panel":"V1-10","wl":4715.6,"flux":1.4},{"panel":"V1-10","wl":4720.2,"flux":1.31},{"panel":"V1-10","wl":4727.1,"flux":1.3},{"panel":"V1-10","wl":4732.8,"flux":1.37},{"panel":"V1-10","wl":4735.1,"flux":1.27},{"panel":"V1-10","wl":4739.7,"flux":1.27}
  ]
},
"hconcat": [
{
"vconcat": [
{"width": 361, "height": 130, "layer": [
  {"layer": [
    {"data": {"name": "spectra"}, "transform": [{"filter": "datum.panel === 'V2-1'"}], "mark": {"type": "line", "color": "#222", "strokeWidth": 1.3, "interpolate": "monotone"},
     "encoding": {"x": {"field": "wl", "type": "quantitative", "title": null, "scale": {"domain": [4285.3, 4415], "nice": false, "zero": false}, "axis": {"orient": "bottom", "values": [4300, 4320, 4340, 4360, 4380, 4400]}},
                  "y": {"field": "flux", "type": "quantitative", "title": null, "scale": {"domain": [0.416, 5.584], "nice": false, "zero": false}, "axis": {"orient": "left", "values": [1, 2, 3, 4, 5]}}}},
    {"data": {"name": "names"}, "transform": [{"filter": "datum.panel === 'V2-1'"}], "mark": {"type": "text", "align": "left", "baseline": "alphabetic", "fontSize": 36, "font": "Liberation Sans", "color": "#111"},
     "encoding": {"x": {"datum": 4291.3, "type": "quantitative", "title": null}, "y": {"datum": 3.88, "type": "quantitative", "title": null}, "text": {"field": "name"}}}
  ]},
  {"data": {"name": "spectra"}, "transform": [{"filter": "datum.panel === 'V2-1'"}], "mark": {"type": "line", "strokeOpacity": 0},
   "encoding": {"x": {"field": "wl", "type": "quantitative", "title": null, "scale": {"domain": [4285.3, 4415], "nice": false, "zero": false}, "axis": {"orient": "top", "values": [4300, 4320, 4340, 4360, 4380, 4400]}},
                "y": {"field": "flux", "type": "quantitative", "title": null, "scale": {"domain": [0.416, 5.584], "nice": false, "zero": false}, "axis": {"orient": "right", "values": [1, 2, 3, 4, 5]}}}}
], "resolve": {"scale": {"x": "independent", "y": "independent"}}},
{"width": 361, "height": 131, "layer": [
  {"data": {"name": "spectra"}, "transform": [{"filter": "datum.panel === 'V2-2'"}], "mark": {"type": "line", "color": "#222", "strokeWidth": 1.3, "interpolate": "monotone"},
   "encoding": {"x": {"field": "wl", "type": "quantitative", "title": null, "scale": {"domain": [4285.3, 4415], "nice": false, "zero": false}, "axis": {"orient": "bottom", "values": [4300, 4320, 4340, 4360, 4380, 4400]}},
                "y": {"field": "flux", "type": "quantitative", "title": null, "scale": {"domain": [0.416, 5.584], "nice": false, "zero": false}, "axis": {"orient": "left", "values": [1, 2, 3, 4, 5]}}}},
  {"data": {"name": "spectra"}, "transform": [{"filter": "datum.panel === 'V2-2'"}], "mark": {"type": "line", "strokeOpacity": 0},
   "encoding": {"x": {"field": "wl", "type": "quantitative", "title": null, "scale": {"domain": [4285.3, 4415], "nice": false, "zero": false}, "axis": {"orient": "top", "values": [4300, 4320, 4340, 4360, 4380, 4400]}},
                "y": {"field": "flux", "type": "quantitative", "title": null, "scale": {"domain": [0.416, 5.584], "nice": false, "zero": false}, "axis": {"orient": "right", "values": [1, 2, 3, 4, 5]}}}}
], "resolve": {"scale": {"x": "independent", "y": "independent"}}},
{"width": 361, "height": 130, "layer": [
  {"data": {"name": "spectra"}, "transform": [{"filter": "datum.panel === 'V2-3'"}], "mark": {"type": "line", "color": "#222", "strokeWidth": 1.3, "interpolate": "monotone"},
   "encoding": {"x": {"field": "wl", "type": "quantitative", "title": null, "scale": {"domain": [4285.3, 4415], "nice": false, "zero": false}, "axis": {"orient": "bottom", "values": [4300, 4320, 4340, 4360, 4380, 4400]}},
                "y": {"field": "flux", "type": "quantitative", "title": null, "scale": {"domain": [0.416, 5.584], "nice": false, "zero": false}, "axis": {"orient": "left", "values": [1, 2, 3, 4, 5]}}}},
  {"data": {"name": "spectra"}, "transform": [{"filter": "datum.panel === 'V2-3'"}], "mark": {"type": "line", "strokeOpacity": 0},
   "encoding": {"x": {"field": "wl", "type": "quantitative", "title": null, "scale": {"domain": [4285.3, 4415], "nice": false, "zero": false}, "axis": {"orient": "top", "values": [4300, 4320, 4340, 4360, 4380, 4400]}},
                "y": {"field": "flux", "type": "quantitative", "title": null, "scale": {"domain": [0.416, 5.584], "nice": false, "zero": false}, "axis": {"orient": "right", "values": [1, 2, 3, 4, 5]}}}}
], "resolve": {"scale": {"x": "independent", "y": "independent"}}},
{"width": 361, "height": 131, "layer": [
  {"data": {"name": "spectra"}, "transform": [{"filter": "datum.panel === 'V2-4'"}], "mark": {"type": "line", "color": "#222", "strokeWidth": 1.3, "interpolate": "monotone"},
   "encoding": {"x": {"field": "wl", "type": "quantitative", "title": null, "scale": {"domain": [4285.3, 4415], "nice": false, "zero": false}, "axis": {"orient": "bottom", "values": [4300, 4320, 4340, 4360, 4380, 4400]}},
                "y": {"field": "flux", "type": "quantitative", "title": null, "scale": {"domain": [0.416, 5.584], "nice": false, "zero": false}, "axis": {"orient": "left", "values": [1, 2, 3, 4, 5]}}}},
  {"data": {"name": "spectra"}, "transform": [{"filter": "datum.panel === 'V2-4'"}], "mark": {"type": "line", "strokeOpacity": 0},
   "encoding": {"x": {"field": "wl", "type": "quantitative", "title": null, "scale": {"domain": [4285.3, 4415], "nice": false, "zero": false}, "axis": {"orient": "top", "values": [4300, 4320, 4340, 4360, 4380, 4400]}},
                "y": {"field": "flux", "type": "quantitative", "title": null, "scale": {"domain": [0.416, 5.584], "nice": false, "zero": false}, "axis": {"orient": "right", "values": [1, 2, 3, 4, 5]}}}}
], "resolve": {"scale": {"x": "independent", "y": "independent"}}},
{"width": 361, "height": 130, "layer": [
  {"data": {"name": "spectra"}, "transform": [{"filter": "datum.panel === 'V2-5'"}], "mark": {"type": "line", "color": "#222", "strokeWidth": 1.3, "interpolate": "monotone"},
   "encoding": {"x": {"field": "wl", "type": "quantitative", "title": null, "scale": {"domain": [4285.3, 4415], "nice": false, "zero": false}, "axis": {"orient": "bottom", "values": [4300, 4320, 4340, 4360, 4380, 4400]}},
                "y": {"field": "flux", "type": "quantitative", "title": null, "scale": {"domain": [0.708, 3.292], "nice": false, "zero": false}, "axis": {"orient": "left", "values": [1, 2, 3]}}}},
  {"data": {"name": "spectra"}, "transform": [{"filter": "datum.panel === 'V2-5'"}], "mark": {"type": "line", "strokeOpacity": 0},
   "encoding": {"x": {"field": "wl", "type": "quantitative", "title": null, "scale": {"domain": [4285.3, 4415], "nice": false, "zero": false}, "axis": {"orient": "top", "values": [4300, 4320, 4340, 4360, 4380, 4400]}},
                "y": {"field": "flux", "type": "quantitative", "title": null, "scale": {"domain": [0.708, 3.292], "nice": false, "zero": false}, "axis": {"orient": "right", "values": [1, 2, 3]}}}}
], "resolve": {"scale": {"x": "independent", "y": "independent"}}},
{"width": 361, "height": 131, "layer": [
  {"data": {"name": "spectra"}, "transform": [{"filter": "datum.panel === 'V2-6'"}], "mark": {"type": "line", "color": "#222", "strokeWidth": 1.3, "interpolate": "monotone"},
   "encoding": {"x": {"field": "wl", "type": "quantitative", "title": null, "scale": {"domain": [4285.3, 4415], "nice": false, "zero": false}, "axis": {"orient": "bottom", "values": [4300, 4320, 4340, 4360, 4380, 4400]}},
                "y": {"field": "flux", "type": "quantitative", "title": null, "scale": {"domain": [0.416, 5.584], "nice": false, "zero": false}, "axis": {"orient": "left", "values": [1, 2, 3, 4, 5]}}}},
  {"data": {"name": "spectra"}, "transform": [{"filter": "datum.panel === 'V2-6'"}], "mark": {"type": "line", "strokeOpacity": 0},
   "encoding": {"x": {"field": "wl", "type": "quantitative", "title": null, "scale": {"domain": [4285.3, 4415], "nice": false, "zero": false}, "axis": {"orient": "top", "values": [4300, 4320, 4340, 4360, 4380, 4400]}},
                "y": {"field": "flux", "type": "quantitative", "title": null, "scale": {"domain": [0.416, 5.584], "nice": false, "zero": false}, "axis": {"orient": "right", "values": [1, 2, 3, 4, 5]}}}}
], "resolve": {"scale": {"x": "independent", "y": "independent"}}},
{"width": 361, "height": 130, "layer": [
  {"data": {"name": "spectra"}, "transform": [{"filter": "datum.panel === 'V2-7'"}], "mark": {"type": "line", "color": "#222", "strokeWidth": 1.3, "interpolate": "monotone"},
   "encoding": {"x": {"field": "wl", "type": "quantitative", "title": null, "scale": {"domain": [4285.3, 4415], "nice": false, "zero": false}, "axis": {"orient": "bottom", "values": [4300, 4320, 4340, 4360, 4380, 4400]}},
                "y": {"field": "flux", "type": "quantitative", "title": null, "scale": {"domain": [0.416, 5.584], "nice": false, "zero": false}, "axis": {"orient": "left", "values": [1, 2, 3, 4, 5]}}}},
  {"data": {"name": "spectra"}, "transform": [{"filter": "datum.panel === 'V2-7'"}], "mark": {"type": "line", "strokeOpacity": 0},
   "encoding": {"x": {"field": "wl", "type": "quantitative", "title": null, "scale": {"domain": [4285.3, 4415], "nice": false, "zero": false}, "axis": {"orient": "top", "values": [4300, 4320, 4340, 4360, 4380, 4400]}},
                "y": {"field": "flux", "type": "quantitative", "title": null, "scale": {"domain": [0.416, 5.584], "nice": false, "zero": false}, "axis": {"orient": "right", "values": [1, 2, 3, 4, 5]}}}}
], "resolve": {"scale": {"x": "independent", "y": "independent"}}},
{"width": 361, "height": 131, "layer": [
  {"data": {"name": "spectra"}, "transform": [{"filter": "datum.panel === 'V2-8'"}], "mark": {"type": "line", "color": "#222", "strokeWidth": 1.3, "interpolate": "monotone"},
   "encoding": {"x": {"field": "wl", "type": "quantitative", "title": null, "scale": {"domain": [4285.3, 4415], "nice": false, "zero": false}, "axis": {"orient": "bottom", "values": [4300, 4320, 4340, 4360, 4380, 4400]}},
                "y": {"field": "flux", "type": "quantitative", "title": null, "scale": {"domain": [0.416, 5.584], "nice": false, "zero": false}, "axis": {"orient": "left", "values": [1, 2, 3, 4, 5]}}}},
  {"data": {"name": "spectra"}, "transform": [{"filter": "datum.panel === 'V2-8'"}], "mark": {"type": "line", "strokeOpacity": 0},
   "encoding": {"x": {"field": "wl", "type": "quantitative", "title": null, "scale": {"domain": [4285.3, 4415], "nice": false, "zero": false}, "axis": {"orient": "top", "values": [4300, 4320, 4340, 4360, 4380, 4400]}},
                "y": {"field": "flux", "type": "quantitative", "title": null, "scale": {"domain": [0.416, 5.584], "nice": false, "zero": false}, "axis": {"orient": "right", "values": [1, 2, 3, 4, 5]}}}}
], "resolve": {"scale": {"x": "independent", "y": "independent"}}},
{"width": 361, "height": 130, "layer": [
  {"data": {"name": "spectra"}, "transform": [{"filter": "datum.panel === 'V2-9'"}], "mark": {"type": "line", "color": "#222", "strokeWidth": 1.3, "interpolate": "monotone"},
   "encoding": {"x": {"field": "wl", "type": "quantitative", "title": null, "scale": {"domain": [4285.3, 4415], "nice": false, "zero": false}, "axis": {"orient": "bottom", "values": [4300, 4320, 4340, 4360, 4380, 4400]}},
                "y": {"field": "flux", "type": "quantitative", "title": null, "scale": {"domain": [0.416, 5.584], "nice": false, "zero": false}, "axis": {"orient": "left", "values": [1, 2, 3, 4, 5]}}}},
  {"data": {"name": "spectra"}, "transform": [{"filter": "datum.panel === 'V2-9'"}], "mark": {"type": "line", "strokeOpacity": 0},
   "encoding": {"x": {"field": "wl", "type": "quantitative", "title": null, "scale": {"domain": [4285.3, 4415], "nice": false, "zero": false}, "axis": {"orient": "top", "values": [4300, 4320, 4340, 4360, 4380, 4400]}},
                "y": {"field": "flux", "type": "quantitative", "title": null, "scale": {"domain": [0.416, 5.584], "nice": false, "zero": false}, "axis": {"orient": "right", "values": [1, 2, 3, 4, 5]}}}}
], "resolve": {"scale": {"x": "independent", "y": "independent"}}},
{"width": 361, "height": 131, "layer": [
  {"data": {"name": "spectra"}, "transform": [{"filter": "datum.panel === 'V2-10'"}], "mark": {"type": "line", "color": "#222", "strokeWidth": 1.3, "interpolate": "monotone"},
   "encoding": {"x": {"field": "wl", "type": "quantitative", "title": "Wavelength (Å)", "scale": {"domain": [4285.3, 4415], "nice": false, "zero": false}, "axis": {"orient": "bottom", "values": [4300, 4320, 4340, 4360, 4380, 4400], "labels": true, "titleX": 186}},
                "y": {"field": "flux", "type": "quantitative", "title": null, "scale": {"domain": [0.708, 3.292], "nice": false, "zero": false}, "axis": {"orient": "left", "values": [1, 2, 3]}}}},
  {"data": {"name": "spectra"}, "transform": [{"filter": "datum.panel === 'V2-10'"}], "mark": {"type": "line", "strokeOpacity": 0},
   "encoding": {"x": {"field": "wl", "type": "quantitative", "title": null, "scale": {"domain": [4285.3, 4415], "nice": false, "zero": false}, "axis": {"orient": "top", "values": [4300, 4320, 4340, 4360, 4380, 4400]}},
                "y": {"field": "flux", "type": "quantitative", "title": null, "scale": {"domain": [0.708, 3.292], "nice": false, "zero": false}, "axis": {"orient": "right", "values": [1, 2, 3]}}}}
], "resolve": {"scale": {"x": "independent", "y": "independent"}}}
], "spacing": 0, "bounds": "flush"},
{
"vconcat": [
{"width": 339.3, "height": 130, "layer": [
  {"layer": [
    {"data": {"name": "spectra"}, "transform": [{"filter": "datum.panel === 'V1-1'"}], "mark": {"type": "line", "color": "#222", "strokeWidth": 1.3, "interpolate": "monotone"},
     "encoding": {"x": {"field": "wl", "type": "quantitative", "title": null, "scale": {"domain": [4533.5, 4766.7], "nice": false, "zero": false}, "axis": {"orient": "bottom", "values": [4550, 4600, 4650, 4700, 4750]}},
                  "y": {"field": "flux", "type": "quantitative", "title": null, "scale": {"domain": [0.562, 4.438], "nice": false, "zero": false}, "axis": {"orient": "left", "values": [1, 2, 3, 4]}}}},
    {"data": {"name": "names"}, "transform": [{"filter": "datum.panel === 'V1-1'"}], "mark": {"type": "text", "align": "left", "baseline": "alphabetic", "fontSize": 36, "font": "Liberation Sans", "color": "#111"},
     "encoding": {"x": {"datum": 4546.1, "type": "quantitative", "title": null}, "y": {"datum": 3.16, "type": "quantitative", "title": null}, "text": {"field": "name"}}},
    {"data": {"name": "days"}, "transform": [{"filter": "datum.panel === 'V1-1'"}], "mark": {"type": "rect", "fill": "white", "stroke": "#666", "strokeWidth": 1},
     "encoding": {"x": {"datum": 4718, "type": "quantitative", "title": null}, "x2": {"datum": 4766.7}, "y": {"datum": 4.379, "type": "quantitative", "title": null}, "y2": {"datum": 3.805}}},
    {"data": {"name": "days"}, "transform": [{"filter": "datum.panel === 'V1-1'"}], "mark": {"type": "text", "align": "center", "baseline": "middle", "fontSize": 14, "font": "Liberation Sans", "color": "#111"},
     "encoding": {"x": {"datum": 4738.5, "type": "quantitative", "title": null}, "y": {"datum": 4.092, "type": "quantitative", "title": null}, "text": {"field": "day"}}}
  ]},
  {"data": {"name": "spectra"}, "transform": [{"filter": "datum.panel === 'V1-1'"}], "mark": {"type": "line", "strokeOpacity": 0},
   "encoding": {"x": {"field": "wl", "type": "quantitative", "title": null, "scale": {"domain": [4533.5, 4766.7], "nice": false, "zero": false}, "axis": {"orient": "top", "values": [4550, 4600, 4650, 4700, 4750]}},
                "y": {"field": "flux", "type": "quantitative", "title": null, "scale": {"domain": [0.562, 4.438], "nice": false, "zero": false}, "axis": {"orient": "right", "values": [1, 2, 3, 4]}}}}
], "resolve": {"scale": {"x": "independent", "y": "independent"}}},
{"width": 339.3, "height": 131, "layer": [
  {"layer": [
    {"data": {"name": "spectra"}, "transform": [{"filter": "datum.panel === 'V1-2'"}], "mark": {"type": "line", "color": "#222", "strokeWidth": 1.3, "interpolate": "monotone"},
     "encoding": {"x": {"field": "wl", "type": "quantitative", "title": null, "scale": {"domain": [4533.5, 4766.7], "nice": false, "zero": false}, "axis": {"orient": "bottom", "values": [4550, 4600, 4650, 4700, 4750]}},
                  "y": {"field": "flux", "type": "quantitative", "title": null, "scale": {"domain": [0.708, 3.292], "nice": false, "zero": false}, "axis": {"orient": "left", "values": [1, 2, 3]}}}},
    {"data": {"name": "days"}, "transform": [{"filter": "datum.panel === 'V1-2'"}], "mark": {"type": "rect", "fill": "white", "stroke": "#666", "strokeWidth": 1},
     "encoding": {"x": {"datum": 4718, "type": "quantitative", "title": null}, "x2": {"datum": 4766.7}, "y": {"datum": 3.252, "type": "quantitative", "title": null}, "y2": {"datum": 2.87}}},
    {"data": {"name": "days"}, "transform": [{"filter": "datum.panel === 'V1-2'"}], "mark": {"type": "text", "align": "center", "baseline": "middle", "fontSize": 14, "font": "Liberation Sans", "color": "#111"},
     "encoding": {"x": {"datum": 4738.5, "type": "quantitative", "title": null}, "y": {"datum": 3.061, "type": "quantitative", "title": null}, "text": {"field": "day"}}}
  ]},
  {"data": {"name": "spectra"}, "transform": [{"filter": "datum.panel === 'V1-2'"}], "mark": {"type": "line", "strokeOpacity": 0},
   "encoding": {"x": {"field": "wl", "type": "quantitative", "title": null, "scale": {"domain": [4533.5, 4766.7], "nice": false, "zero": false}, "axis": {"orient": "top", "values": [4550, 4600, 4650, 4700, 4750]}},
                "y": {"field": "flux", "type": "quantitative", "title": null, "scale": {"domain": [0.708, 3.292], "nice": false, "zero": false}, "axis": {"orient": "right", "values": [1, 2, 3]}}}}
], "resolve": {"scale": {"x": "independent", "y": "independent"}}},
{"width": 339.3, "height": 130, "layer": [
  {"layer": [
    {"data": {"name": "spectra"}, "transform": [{"filter": "datum.panel === 'V1-3'"}], "mark": {"type": "line", "color": "#222", "strokeWidth": 1.3, "interpolate": "monotone"},
     "encoding": {"x": {"field": "wl", "type": "quantitative", "title": null, "scale": {"domain": [4533.5, 4766.7], "nice": false, "zero": false}, "axis": {"orient": "bottom", "values": [4550, 4600, 4650, 4700, 4750]}},
                  "y": {"field": "flux", "type": "quantitative", "title": null, "scale": {"domain": [0.562, 4.438], "nice": false, "zero": false}, "axis": {"orient": "left", "values": [1, 2, 3, 4]}}}},
    {"data": {"name": "days"}, "transform": [{"filter": "datum.panel === 'V1-3'"}], "mark": {"type": "rect", "fill": "white", "stroke": "#666", "strokeWidth": 1},
     "encoding": {"x": {"datum": 4718, "type": "quantitative", "title": null}, "x2": {"datum": 4766.7}, "y": {"datum": 4.379, "type": "quantitative", "title": null}, "y2": {"datum": 3.805}}},
    {"data": {"name": "days"}, "transform": [{"filter": "datum.panel === 'V1-3'"}], "mark": {"type": "text", "align": "center", "baseline": "middle", "fontSize": 14, "font": "Liberation Sans", "color": "#111"},
     "encoding": {"x": {"datum": 4738.5, "type": "quantitative", "title": null}, "y": {"datum": 4.092, "type": "quantitative", "title": null}, "text": {"field": "day"}}}
  ]},
  {"data": {"name": "spectra"}, "transform": [{"filter": "datum.panel === 'V1-3'"}], "mark": {"type": "line", "strokeOpacity": 0},
   "encoding": {"x": {"field": "wl", "type": "quantitative", "title": null, "scale": {"domain": [4533.5, 4766.7], "nice": false, "zero": false}, "axis": {"orient": "top", "values": [4550, 4600, 4650, 4700, 4750]}},
                "y": {"field": "flux", "type": "quantitative", "title": null, "scale": {"domain": [0.562, 4.438], "nice": false, "zero": false}, "axis": {"orient": "right", "values": [1, 2, 3, 4]}}}}
], "resolve": {"scale": {"x": "independent", "y": "independent"}}},
{"width": 339.3, "height": 131, "layer": [
  {"layer": [
    {"data": {"name": "spectra"}, "transform": [{"filter": "datum.panel === 'V1-4'"}], "mark": {"type": "line", "color": "#222", "strokeWidth": 1.3, "interpolate": "monotone"},
     "encoding": {"x": {"field": "wl", "type": "quantitative", "title": null, "scale": {"domain": [4533.5, 4766.7], "nice": false, "zero": false}, "axis": {"orient": "bottom", "values": [4550, 4600, 4650, 4700, 4750]}},
                  "y": {"field": "flux", "type": "quantitative", "title": null, "scale": {"domain": [0.562, 4.438], "nice": false, "zero": false}, "axis": {"orient": "left", "values": [1, 2, 3, 4]}}}},
    {"data": {"name": "days"}, "transform": [{"filter": "datum.panel === 'V1-4'"}], "mark": {"type": "rect", "fill": "white", "stroke": "#666", "strokeWidth": 1},
     "encoding": {"x": {"datum": 4718, "type": "quantitative", "title": null}, "x2": {"datum": 4766.7}, "y": {"datum": 4.379, "type": "quantitative", "title": null}, "y2": {"datum": 3.805}}},
    {"data": {"name": "days"}, "transform": [{"filter": "datum.panel === 'V1-4'"}], "mark": {"type": "text", "align": "center", "baseline": "middle", "fontSize": 14, "font": "Liberation Sans", "color": "#111"},
     "encoding": {"x": {"datum": 4738.5, "type": "quantitative", "title": null}, "y": {"datum": 4.092, "type": "quantitative", "title": null}, "text": {"field": "day"}}}
  ]},
  {"data": {"name": "spectra"}, "transform": [{"filter": "datum.panel === 'V1-4'"}], "mark": {"type": "line", "strokeOpacity": 0},
   "encoding": {"x": {"field": "wl", "type": "quantitative", "title": null, "scale": {"domain": [4533.5, 4766.7], "nice": false, "zero": false}, "axis": {"orient": "top", "values": [4550, 4600, 4650, 4700, 4750]}},
                "y": {"field": "flux", "type": "quantitative", "title": null, "scale": {"domain": [0.562, 4.438], "nice": false, "zero": false}, "axis": {"orient": "right", "values": [1, 2, 3, 4]}}}}
], "resolve": {"scale": {"x": "independent", "y": "independent"}}},
{"width": 339.3, "height": 130, "layer": [
  {"layer": [
    {"data": {"name": "spectra"}, "transform": [{"filter": "datum.panel === 'V1-5'"}], "mark": {"type": "line", "color": "#222", "strokeWidth": 1.3, "interpolate": "monotone"},
     "encoding": {"x": {"field": "wl", "type": "quantitative", "title": null, "scale": {"domain": [4533.5, 4766.7], "nice": false, "zero": false}, "axis": {"orient": "bottom", "values": [4550, 4600, 4650, 4700, 4750]}},
                  "y": {"field": "flux", "type": "quantitative", "title": null, "scale": {"domain": [0.708, 3.292], "nice": false, "zero": false}, "axis": {"orient": "left", "values": [1, 2, 3]}}}},
    {"data": {"name": "days"}, "transform": [{"filter": "datum.panel === 'V1-5'"}], "mark": {"type": "rect", "fill": "white", "stroke": "#666", "strokeWidth": 1},
     "encoding": {"x": {"datum": 4718, "type": "quantitative", "title": null}, "x2": {"datum": 4766.7}, "y": {"datum": 3.252, "type": "quantitative", "title": null}, "y2": {"datum": 2.87}}},
    {"data": {"name": "days"}, "transform": [{"filter": "datum.panel === 'V1-5'"}], "mark": {"type": "text", "align": "center", "baseline": "middle", "fontSize": 14, "font": "Liberation Sans", "color": "#111"},
     "encoding": {"x": {"datum": 4738.5, "type": "quantitative", "title": null}, "y": {"datum": 3.061, "type": "quantitative", "title": null}, "text": {"field": "day"}}}
  ]},
  {"data": {"name": "spectra"}, "transform": [{"filter": "datum.panel === 'V1-5'"}], "mark": {"type": "line", "strokeOpacity": 0},
   "encoding": {"x": {"field": "wl", "type": "quantitative", "title": null, "scale": {"domain": [4533.5, 4766.7], "nice": false, "zero": false}, "axis": {"orient": "top", "values": [4550, 4600, 4650, 4700, 4750]}},
                "y": {"field": "flux", "type": "quantitative", "title": null, "scale": {"domain": [0.708, 3.292], "nice": false, "zero": false}, "axis": {"orient": "right", "values": [1, 2, 3]}}}}
], "resolve": {"scale": {"x": "independent", "y": "independent"}}},
{"width": 339.3, "height": 131, "layer": [
  {"layer": [
    {"data": {"name": "spectra"}, "transform": [{"filter": "datum.panel === 'V1-6'"}], "mark": {"type": "line", "color": "#222", "strokeWidth": 1.3, "interpolate": "monotone"},
     "encoding": {"x": {"field": "wl", "type": "quantitative", "title": null, "scale": {"domain": [4533.5, 4766.7], "nice": false, "zero": false}, "axis": {"orient": "bottom", "values": [4550, 4600, 4650, 4700, 4750]}},
                  "y": {"field": "flux", "type": "quantitative", "title": null, "scale": {"domain": [0.416, 5.584], "nice": false, "zero": false}, "axis": {"orient": "left", "values": [1, 2, 3, 4, 5]}}}},
    {"data": {"name": "days"}, "transform": [{"filter": "datum.panel === 'V1-6'"}], "mark": {"type": "rect", "fill": "white", "stroke": "#666", "strokeWidth": 1},
     "encoding": {"x": {"datum": 4718, "type": "quantitative", "title": null}, "x2": {"datum": 4766.7}, "y": {"datum": 5.505, "type": "quantitative", "title": null}, "y2": {"datum": 4.74}}},
    {"data": {"name": "days"}, "transform": [{"filter": "datum.panel === 'V1-6'"}], "mark": {"type": "text", "align": "center", "baseline": "middle", "fontSize": 14, "font": "Liberation Sans", "color": "#111"},
     "encoding": {"x": {"datum": 4738.5, "type": "quantitative", "title": null}, "y": {"datum": 5.12, "type": "quantitative", "title": null}, "text": {"field": "day"}}}
  ]},
  {"data": {"name": "spectra"}, "transform": [{"filter": "datum.panel === 'V1-6'"}], "mark": {"type": "line", "strokeOpacity": 0},
   "encoding": {"x": {"field": "wl", "type": "quantitative", "title": null, "scale": {"domain": [4533.5, 4766.7], "nice": false, "zero": false}, "axis": {"orient": "top", "values": [4550, 4600, 4650, 4700, 4750]}},
                "y": {"field": "flux", "type": "quantitative", "title": null, "scale": {"domain": [0.416, 5.584], "nice": false, "zero": false}, "axis": {"orient": "right", "values": [1, 2, 3, 4, 5]}}}}
], "resolve": {"scale": {"x": "independent", "y": "independent"}}},
{"width": 339.3, "height": 130, "layer": [
  {"layer": [
    {"data": {"name": "spectra"}, "transform": [{"filter": "datum.panel === 'V1-7'"}], "mark": {"type": "line", "color": "#222", "strokeWidth": 1.3, "interpolate": "monotone"},
     "encoding": {"x": {"field": "wl", "type": "quantitative", "title": null, "scale": {"domain": [4533.5, 4766.7], "nice": false, "zero": false}, "axis": {"orient": "bottom", "values": [4550, 4600, 4650, 4700, 4750]}},
                  "y": {"field": "flux", "type": "quantitative", "title": null, "scale": {"domain": [0.562, 4.438], "nice": false, "zero": false}, "axis": {"orient": "left", "values": [1, 2, 3, 4]}}}},
    {"data": {"name": "days"}, "transform": [{"filter": "datum.panel === 'V1-7'"}], "mark": {"type": "rect", "fill": "white", "stroke": "#666", "strokeWidth": 1},
     "encoding": {"x": {"datum": 4718, "type": "quantitative", "title": null}, "x2": {"datum": 4766.7}, "y": {"datum": 4.379, "type": "quantitative", "title": null}, "y2": {"datum": 3.805}}},
    {"data": {"name": "days"}, "transform": [{"filter": "datum.panel === 'V1-7'"}], "mark": {"type": "text", "align": "center", "baseline": "middle", "fontSize": 14, "font": "Liberation Sans", "color": "#111"},
     "encoding": {"x": {"datum": 4738.5, "type": "quantitative", "title": null}, "y": {"datum": 4.092, "type": "quantitative", "title": null}, "text": {"field": "day"}}}
  ]},
  {"data": {"name": "spectra"}, "transform": [{"filter": "datum.panel === 'V1-7'"}], "mark": {"type": "line", "strokeOpacity": 0},
   "encoding": {"x": {"field": "wl", "type": "quantitative", "title": null, "scale": {"domain": [4533.5, 4766.7], "nice": false, "zero": false}, "axis": {"orient": "top", "values": [4550, 4600, 4650, 4700, 4750]}},
                "y": {"field": "flux", "type": "quantitative", "title": null, "scale": {"domain": [0.562, 4.438], "nice": false, "zero": false}, "axis": {"orient": "right", "values": [1, 2, 3, 4]}}}}
], "resolve": {"scale": {"x": "independent", "y": "independent"}}},
{"width": 339.3, "height": 131, "layer": [
  {"layer": [
    {"data": {"name": "spectra"}, "transform": [{"filter": "datum.panel === 'V1-8'"}], "mark": {"type": "line", "color": "#222", "strokeWidth": 1.3, "interpolate": "monotone"},
     "encoding": {"x": {"field": "wl", "type": "quantitative", "title": null, "scale": {"domain": [4533.5, 4766.7], "nice": false, "zero": false}, "axis": {"orient": "bottom", "values": [4550, 4600, 4650, 4700, 4750]}},
                  "y": {"field": "flux", "type": "quantitative", "title": null, "scale": {"domain": [0.562, 4.438], "nice": false, "zero": false}, "axis": {"orient": "left", "values": [1, 2, 3, 4]}}}},
    {"data": {"name": "days"}, "transform": [{"filter": "datum.panel === 'V1-8'"}], "mark": {"type": "rect", "fill": "white", "stroke": "#666", "strokeWidth": 1},
     "encoding": {"x": {"datum": 4718, "type": "quantitative", "title": null}, "x2": {"datum": 4766.7}, "y": {"datum": 4.379, "type": "quantitative", "title": null}, "y2": {"datum": 3.805}}},
    {"data": {"name": "days"}, "transform": [{"filter": "datum.panel === 'V1-8'"}], "mark": {"type": "text", "align": "center", "baseline": "middle", "fontSize": 14, "font": "Liberation Sans", "color": "#111"},
     "encoding": {"x": {"datum": 4738.5, "type": "quantitative", "title": null}, "y": {"datum": 4.092, "type": "quantitative", "title": null}, "text": {"field": "day"}}}
  ]},
  {"data": {"name": "spectra"}, "transform": [{"filter": "datum.panel === 'V1-8'"}], "mark": {"type": "line", "strokeOpacity": 0},
   "encoding": {"x": {"field": "wl", "type": "quantitative", "title": null, "scale": {"domain": [4533.5, 4766.7], "nice": false, "zero": false}, "axis": {"orient": "top", "values": [4550, 4600, 4650, 4700, 4750]}},
                "y": {"field": "flux", "type": "quantitative", "title": null, "scale": {"domain": [0.562, 4.438], "nice": false, "zero": false}, "axis": {"orient": "right", "values": [1, 2, 3, 4]}}}}
], "resolve": {"scale": {"x": "independent", "y": "independent"}}},
{"width": 339.3, "height": 130, "layer": [
  {"layer": [
    {"data": {"name": "spectra"}, "transform": [{"filter": "datum.panel === 'V1-9'"}], "mark": {"type": "line", "color": "#222", "strokeWidth": 1.3, "interpolate": "monotone"},
     "encoding": {"x": {"field": "wl", "type": "quantitative", "title": null, "scale": {"domain": [4533.5, 4766.7], "nice": false, "zero": false}, "axis": {"orient": "bottom", "values": [4550, 4600, 4650, 4700, 4750]}},
                  "y": {"field": "flux", "type": "quantitative", "title": null, "scale": {"domain": [0.708, 3.292], "nice": false, "zero": false}, "axis": {"orient": "left", "values": [1, 2, 3]}}}},
    {"data": {"name": "days"}, "transform": [{"filter": "datum.panel === 'V1-9'"}], "mark": {"type": "rect", "fill": "white", "stroke": "#666", "strokeWidth": 1},
     "encoding": {"x": {"datum": 4718, "type": "quantitative", "title": null}, "x2": {"datum": 4766.7}, "y": {"datum": 3.252, "type": "quantitative", "title": null}, "y2": {"datum": 2.87}}},
    {"data": {"name": "days"}, "transform": [{"filter": "datum.panel === 'V1-9'"}], "mark": {"type": "text", "align": "center", "baseline": "middle", "fontSize": 14, "font": "Liberation Sans", "color": "#111"},
     "encoding": {"x": {"datum": 4738.5, "type": "quantitative", "title": null}, "y": {"datum": 3.061, "type": "quantitative", "title": null}, "text": {"field": "day"}}}
  ]},
  {"data": {"name": "spectra"}, "transform": [{"filter": "datum.panel === 'V1-9'"}], "mark": {"type": "line", "strokeOpacity": 0},
   "encoding": {"x": {"field": "wl", "type": "quantitative", "title": null, "scale": {"domain": [4533.5, 4766.7], "nice": false, "zero": false}, "axis": {"orient": "top", "values": [4550, 4600, 4650, 4700, 4750]}},
                "y": {"field": "flux", "type": "quantitative", "title": null, "scale": {"domain": [0.708, 3.292], "nice": false, "zero": false}, "axis": {"orient": "right", "values": [1, 2, 3]}}}}
], "resolve": {"scale": {"x": "independent", "y": "independent"}}},
{"width": 339.3, "height": 131, "layer": [
  {"layer": [
    {"data": {"name": "spectra"}, "transform": [{"filter": "datum.panel === 'V1-10'"}], "mark": {"type": "line", "color": "#222", "strokeWidth": 1.3, "interpolate": "monotone"},
     "encoding": {"x": {"field": "wl", "type": "quantitative", "title": "Wavelength (Å)", "scale": {"domain": [4533.5, 4766.7], "nice": false, "zero": false}, "axis": {"orient": "bottom", "values": [4550, 4600, 4650, 4700, 4750], "labels": true, "labelFontSize": 20, "titleFontSize": 29, "titlePadding": 2, "titleX": 181}},
                  "y": {"field": "flux", "type": "quantitative", "title": null, "scale": {"domain": [0.708, 3.292], "nice": false, "zero": false}, "axis": {"orient": "left", "values": [1, 2, 3]}}}},
    {"data": {"name": "days"}, "transform": [{"filter": "datum.panel === 'V1-10'"}], "mark": {"type": "rect", "fill": "white", "stroke": "#666", "strokeWidth": 1},
     "encoding": {"x": {"datum": 4718, "type": "quantitative", "title": null}, "x2": {"datum": 4766.7}, "y": {"datum": 3.252, "type": "quantitative", "title": null}, "y2": {"datum": 2.87}}},
    {"data": {"name": "days"}, "transform": [{"filter": "datum.panel === 'V1-10'"}], "mark": {"type": "text", "align": "center", "baseline": "middle", "fontSize": 14, "font": "Liberation Sans", "color": "#111"},
     "encoding": {"x": {"datum": 4738.5, "type": "quantitative", "title": null}, "y": {"datum": 3.061, "type": "quantitative", "title": null}, "text": {"field": "day"}}}
  ]},
  {"data": {"name": "spectra"}, "transform": [{"filter": "datum.panel === 'V1-10'"}], "mark": {"type": "line", "strokeOpacity": 0},
   "encoding": {"x": {"field": "wl", "type": "quantitative", "title": null, "scale": {"domain": [4533.5, 4766.7], "nice": false, "zero": false}, "axis": {"orient": "top", "values": [4550, 4600, 4650, 4700, 4750]}},
                "y": {"field": "flux", "type": "quantitative", "title": null, "scale": {"domain": [0.708, 3.292], "nice": false, "zero": false}, "axis": {"orient": "right", "values": [1, 2, 3]}}}}
], "resolve": {"scale": {"x": "independent", "y": "independent"}}}
], "spacing": 0, "bounds": "flush"}
],
"spacing": 43
}
